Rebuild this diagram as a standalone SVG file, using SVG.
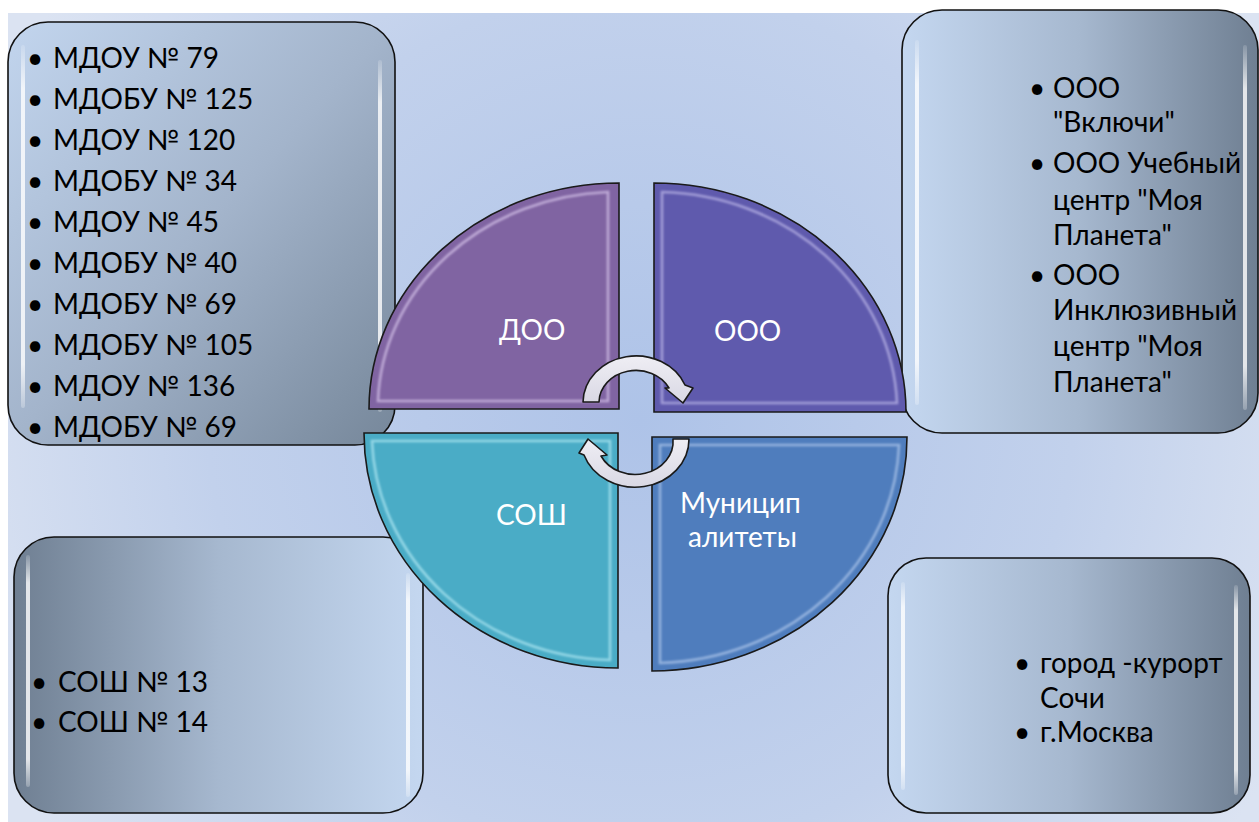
<svg xmlns="http://www.w3.org/2000/svg" width="1259" height="822" viewBox="0 0 1259 822">
<style>
.t{font-family:Lato,"Noto Sans","DejaVu Sans",sans-serif;font-size:28px;fill:#000}
.q{font-family:Lato,"Noto Sans","DejaVu Sans",sans-serif;font-size:28px;fill:#fff}
.b{font-family:Lato,"Noto Sans","DejaVu Sans",sans-serif;font-size:28px;fill:#000;text-anchor:middle}
.box{stroke:#111;stroke-width:1.6}
.hl{fill:url(#hlg)}
.quad{stroke:#1a1a1a;stroke-width:1.6}
.bev{fill:none;stroke-width:2.6;filter:url(#soft)}
.arr{fill:url(#arrg);stroke:#1a1a1a;stroke-width:1.6;stroke-linejoin:round}
</style>
<defs>
<radialGradient id="bg" cx="640" cy="420" r="720" gradientUnits="userSpaceOnUse">
<stop offset="0" stop-color="#aec3e8"/>
<stop offset="0.6" stop-color="#c2d1ec"/>
<stop offset="1" stop-color="#dbe3f2"/>
</radialGradient>
<linearGradient id="gTL" x1="0" y1="0" x2="1" y2="1">
<stop offset="0" stop-color="#c2d5ee"/>
<stop offset="0.5" stop-color="#a3b4cb"/>
<stop offset="1" stop-color="#76879a"/>
</linearGradient>
<linearGradient id="gLR" x1="0" y1="0" x2="1" y2="0">
<stop offset="0" stop-color="#c4d7f0"/>
<stop offset="0.5" stop-color="#a6b8cf"/>
<stop offset="1" stop-color="#6f7f92"/>
</linearGradient>
<linearGradient id="gRL" x1="1" y1="0" x2="0" y2="0">
<stop offset="0" stop-color="#c4d7f0"/>
<stop offset="0.5" stop-color="#a6b8cf"/>
<stop offset="1" stop-color="#6f7f92"/>
</linearGradient>
<linearGradient id="hlg" x1="0" y1="0" x2="0" y2="1">
<stop offset="0" stop-color="#fff" stop-opacity="0.15"/>
<stop offset="0.12" stop-color="#fff" stop-opacity="0.8"/>
<stop offset="0.88" stop-color="#fff" stop-opacity="0.8"/>
<stop offset="1" stop-color="#fff" stop-opacity="0.25"/>
</linearGradient>
<linearGradient id="arrg" x1="0" y1="0" x2="0" y2="1">
<stop offset="0" stop-color="#efeef4"/>
<stop offset="1" stop-color="#d9d8e4"/>
</linearGradient>
<filter id="soft" x="-5%" y="-5%" width="110%" height="110%">
<feGaussianBlur stdDeviation="1"/>
</filter>
</defs>

<rect x="0" y="0" width="1259" height="822" fill="#fff"/>
<rect x="8" y="13" width="1251" height="809" fill="url(#bg)"/>

<g id="list-doo">
<rect class="box" x="8" y="22" width="387" height="423" rx="40" fill="url(#gTL)"/>
<rect class="hl" x="21" y="45" width="4" height="363" rx="2"/>
<rect class="hl" x="378" y="60" width="4" height="352" rx="2"/>
<text class="b" x="35" y="68">•</text><text class="t" x="53" y="68">МДОУ № 79</text>
<text class="b" x="35" y="109">•</text><text class="t" x="53" y="109">МДОБУ № 125</text>
<text class="b" x="35" y="150">•</text><text class="t" x="53" y="150">МДОУ № 120</text>
<text class="b" x="35" y="191">•</text><text class="t" x="53" y="191">МДОБУ № 34</text>
<text class="b" x="35" y="232">•</text><text class="t" x="53" y="232">МДОУ № 45</text>
<text class="b" x="35" y="273">•</text><text class="t" x="53" y="273">МДОБУ № 40</text>
<text class="b" x="35" y="314">•</text><text class="t" x="53" y="314">МДОБУ № 69</text>
<text class="b" x="35" y="355">•</text><text class="t" x="53" y="355">МДОБУ № 105</text>
<text class="b" x="35" y="396">•</text><text class="t" x="53" y="396">МДОУ № 136</text>
<text class="b" x="35" y="437">•</text><text class="t" x="53" y="437">МДОБУ № 69</text>
</g>

<g id="list-ooo">
<rect class="box" x="902" y="10" width="356" height="423" rx="40" fill="url(#gLR)"/>
<rect class="hl" x="915" y="40" width="4" height="365" rx="2"/>
<rect class="hl" x="1243" y="45" width="4" height="365" rx="2"/>
<text class="b" x="1037" y="98">•</text><text class="t" x="1053" y="98">ООО</text>
<text class="t" x="1053" y="132">"Включи"</text>
<text class="b" x="1037" y="173">•</text><text class="t" x="1053" y="173">ООО Учебный</text>
<text class="t" x="1053" y="210">центр "Моя</text>
<text class="t" x="1053" y="245">Планета"</text>
<text class="b" x="1037" y="285">•</text><text class="t" x="1053" y="285">ООО</text>
<text class="t" x="1053" y="320">Инклюзивный</text>
<text class="t" x="1053" y="356">центр "Моя</text>
<text class="t" x="1053" y="392">Планета"</text>
</g>

<g id="list-sosh">
<rect class="box" x="14" y="537" width="409" height="276" rx="40" fill="url(#gRL)"/>
<rect class="hl" x="26" y="555" width="4" height="232" rx="2"/>
<rect class="hl" x="406" y="573" width="4" height="224" rx="2"/>
<text class="b" x="39" y="692">•</text><text class="t" x="58" y="692">СОШ № 13</text>
<text class="b" x="39" y="732">•</text><text class="t" x="58" y="732">СОШ № 14</text>
</g>

<g id="list-mun">
<rect class="box" x="888" y="558" width="362" height="255" rx="38" fill="url(#gLR)"/>
<rect class="hl" x="901" y="582" width="4" height="208" rx="2"/>
<rect class="hl" x="1234" y="585" width="4" height="210" rx="2"/>
<text class="b" x="1022" y="673">•</text><text class="t" x="1040" y="673">город -курорт</text>
<text class="t" x="1040" y="708">Сочи</text>
<text class="b" x="1022" y="742">•</text><text class="t" x="1040" y="742">г.Москва</text>
</g>

<g id="q-doo">
<path class="quad" d="M619,409 L369,409 A250,226 0 0 1 619,183 Z" fill="#8064a2"/>
<path class="bev" d="M608,401 L378,401 A240,216 0 0 1 608,192 Z" stroke="#e6d6f6" stroke-opacity="0.6"/>
<text class="q" x="499" y="340">ДОО</text>
</g>

<g id="q-ooo">
<path class="quad" d="M654,412 L654,183 A252,229 0 0 1 906,412 Z" fill="#5f5aad"/>
<path class="bev" d="M662,403 L662,192 A242,220 0 0 1 897,403 Z" stroke="#cfcaf4" stroke-opacity="0.6"/>
<text class="q" x="714" y="341">ООО</text>
</g>

<g id="q-sosh">
<path class="quad" d="M618,433 L618,668 A254,235 0 0 1 364,433 Z" fill="#4aacc6"/>
<path class="bev" d="M610,441 L610,660 A246,227 0 0 1 372,441 Z" stroke="#c4f4fc" stroke-opacity="0.6"/>
<text class="q" x="496" y="525">СОШ</text>
</g>

<g id="q-mun">
<path class="quad" d="M652,437 L907,437 A255,234 0 0 1 652,671 Z" fill="#4f7dbd"/>
<path class="bev" d="M660,445 L899,445 A247,226 0 0 1 660,663 Z" stroke="#c2d6f4" stroke-opacity="0.6"/>
<text class="q" x="680" y="513">Муницип</text>
<text class="q" x="688" y="547">алитеты</text>
</g>

<g id="connectors">
<path class="arr" d="M583,402 A53,47 0 0 1 685,385 L693,388 L683,403 L665,388 L669,388 A37,32 0 0 0 599,402 Z"/>
<path class="arr" d="M689,439 A54,48 0 0 1 584,455 L579,453 L588,439 L607,455 L601,456 A38,33 0 0 0 673,439 Z"/>
</g>
</svg>
